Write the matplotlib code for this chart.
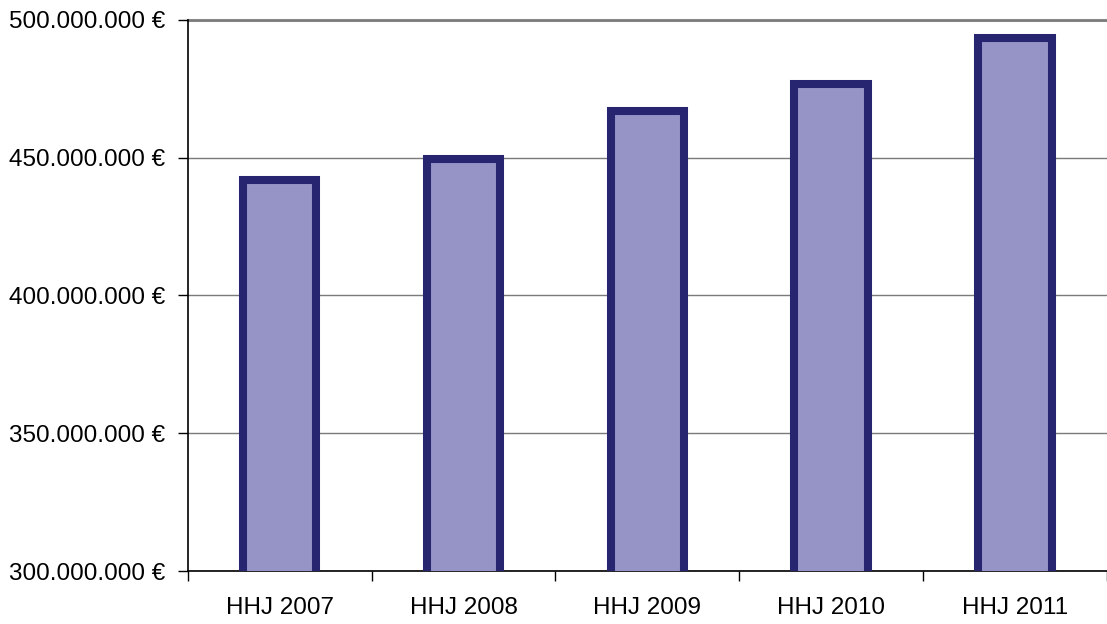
import matplotlib.pyplot as plt
from matplotlib.ticker import FuncFormatter, FixedLocator

# Data
years = ["HHJ 2007", "HHJ 2008", "HHJ 2009", "HHJ 2010", "HHJ 2011"]
values = [441.9e6, 449.5e6, 466.9e6, 476.8e6, 493.5e6]
yticks = [300e6, 350e6, 400e6, 450e6, 500e6]

plt.rcParams['font.family'] = ['Liberation Sans', 'DejaVu Sans']

fig = plt.figure(figsize=(11.07, 6.24), dpi=100)
ax = fig.add_axes([0.1696, 0.0849, 0.8304, 0.8831])

x = range(len(years))
ax.bar(x, values, width=0.4, bottom=0, color='#9694c7', edgecolor='#272570',
       linewidth=5.8, zorder=3)

ax.set_ylim(300e6, 500e6)
ax.set_xlim(-0.5, len(years) - 0.5)
ax.set_yticks(yticks)
ax.yaxis.set_major_formatter(FuncFormatter(lambda v, p: f"{v:,.0f}".replace(',', '.') + " €"))
ax.yaxis.grid(True, color='#7a7a7a', linewidth=1.0, zorder=0)

ax.set_xticks(list(x))
ax.set_xticklabels(years)
ax.xaxis.set_minor_locator(FixedLocator([i - 0.5 for i in range(len(years) + 1)]))
ax.tick_params(axis='x', which='major', length=0, pad=19, labelsize=17.5)
ax.tick_params(axis='x', which='minor', length=7, width=1, color='black')
ax.tick_params(axis='y', length=7, width=1, pad=9, labelsize=17.5)

for s in ['top', 'right']:
    ax.spines[s].set_visible(False)
ax.spines['left'].set_linewidth(1.2)
ax.spines['bottom'].set_linewidth(1.2)
ax.axhline(500e6, color='#8a8a8a', linewidth=2.2, zorder=1, clip_on=False)

fig.savefig('out.png', dpi=100)
